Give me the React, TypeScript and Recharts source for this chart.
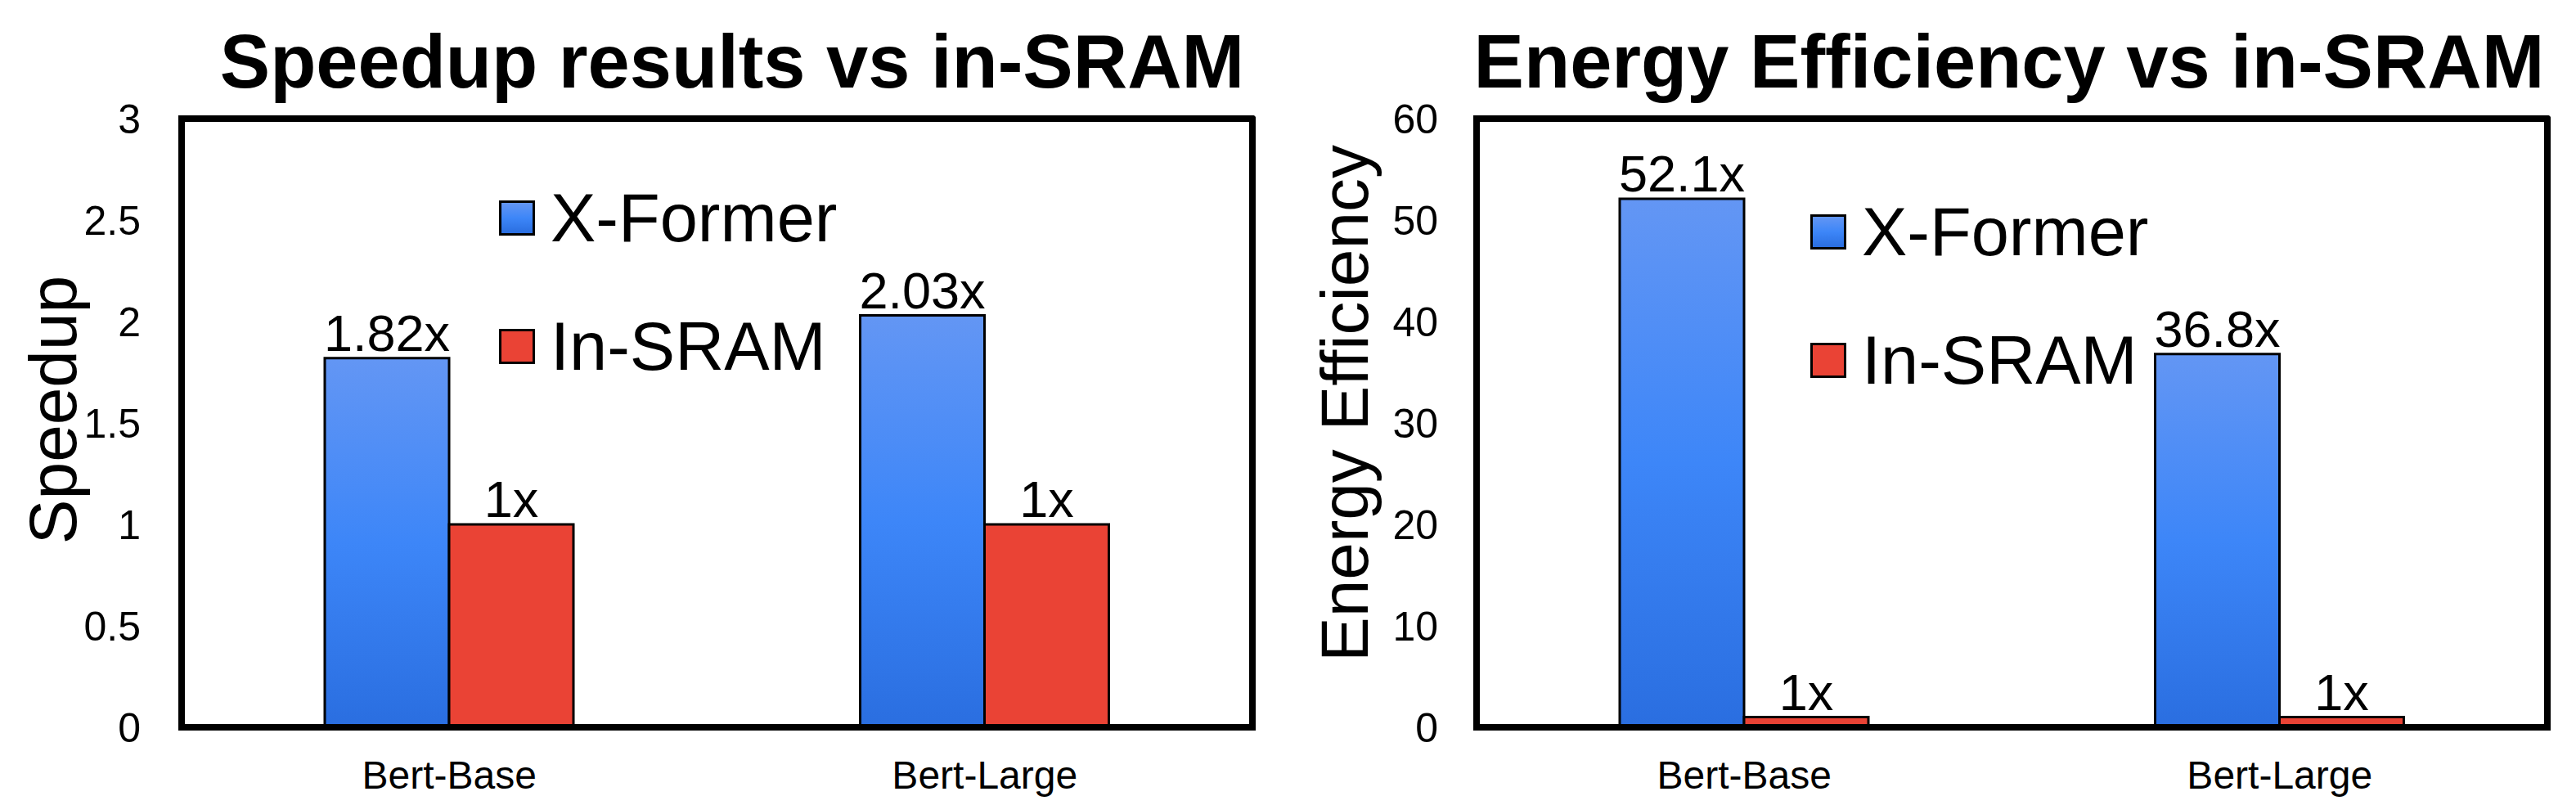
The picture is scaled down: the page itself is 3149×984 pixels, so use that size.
import { BarChart, Bar, XAxis, YAxis, Legend, LabelList, CartesianGrid } from 'recharts'

const categories = ['Bert-Base', 'Bert-Large']
const seriesNames = ['X-Former', 'In-SRAM']
const speedupXFormer = [1.82, 2.03]
const speedupInSram = [1, 1]
const energyXFormer = [52.1, 36.8]
const energyInSram = [1, 1]
const speedupTicks = [0, 0.5, 1, 1.5, 2, 2.5, 3]
const energyTicks = [0, 10, 20, 30, 40, 50, 60]

const FONT = '"Liberation Sans", Arial, Helvetica, sans-serif'

const speedupData = categories.map((name, i) => ({
  name,
  xformer: speedupXFormer[i],
  insram: speedupInSram[i],
}))
const energyData = categories.map((name, i) => ({
  name,
  xformer: energyXFormer[i],
  insram: energyInSram[i],
}))

const frameLine = { stroke: '#000', strokeWidth: 8, strokeLinecap: 'square' as const }

function Swatch({ kind }: { kind: string }) {
  const bg =
    kind === 'X-Former'
      ? 'linear-gradient(#6396f4, #3d86f8 50%, #2a6ee0)'
      : '#ea4335'
  return (
    <div
      style={{
        width: 38,
        height: 37,
        border: '3px solid #000',
        background: bg,
        marginRight: 19,
        flex: 'none',
      }}
    />
  )
}

function LegendBox() {
  return (
    <div style={{ fontFamily: FONT }}>
      {seriesNames.map((name) => (
        <div key={name} style={{ display: 'flex', alignItems: 'center', height: 157 }}>
          <Swatch kind={name} />
          <span style={{ fontSize: 83, lineHeight: '83px', color: '#000' }}>{name}</span>
        </div>
      ))}
    </div>
  )
}

type PanelProps = {
  data: { name: string; xformer: number; insram: number }[]
  width: number
  axisWidth: number
  tickGap: number
  marginRight: number
  domain: [number, number]
  ticks: number[]
  yLabel: string
  labelDx: number
  labelDy: number
  legendLeft: number
  legendTop: number
  id: string
}

function Panel(p: PanelProps) {
  return (
    <BarChart
      width={p.width}
      height={984}
      data={p.data}
      margin={{ top: 145, right: p.marginRight, bottom: 0, left: 0 }}
      barGap={0}
      style={{ fontFamily: FONT }}
    >
      <defs>
        <linearGradient id={`blue-${p.id}`} x1='0' y1='0' x2='0' y2='1'>
          <stop offset='0%' stopColor='#6396f4' />
          <stop offset='50%' stopColor='#3d86f8' />
          <stop offset='100%' stopColor='#2a6ee0' />
        </linearGradient>
      </defs>
      {/* top and right edges of the box frame */}
      <CartesianGrid
        stroke='#000'
        strokeWidth={8}
        strokeLinecap='round'
        horizontalCoordinatesGenerator={({ offset }: any) => [offset.top]}
        verticalCoordinatesGenerator={({ offset }: any) => [offset.left + offset.width]}
      />
      <XAxis
        dataKey='name'
        height={95}
        tickSize={0}
        tickMargin={41}
        tick={{ fill: '#000', fontSize: 48, fontFamily: FONT }}
        axisLine={frameLine}
        tickLine={false}
      />
      <YAxis
        width={p.axisWidth}
        domain={p.domain}
        ticks={p.ticks}
        tickSize={0}
        tickMargin={p.tickGap}
        tick={{ fill: '#000', fontSize: 50, fontFamily: FONT }}
        axisLine={frameLine}
        tickLine={false}
        label={{
          value: p.yLabel,
          angle: -90,
          position: 'center',
          dx: p.labelDx,
          dy: p.labelDy,
          style: { fontSize: 82, fill: '#000', fontFamily: FONT },
        }}
      />
      <Legend
        layout='vertical'
        align='center'
        verticalAlign='middle'
        content={<LegendBox />}
        wrapperStyle={{ left: p.legendLeft, top: p.legendTop, width: 'auto' }}
      />
      <Bar
        dataKey='xformer'
        name='X-Former'
        fill={`url(#blue-${p.id})`}
        stroke='#000'
        strokeWidth={3}
        barSize={152}
        isAnimationActive={false}
      >
        <LabelList
          dataKey='xformer'
          position='top'
          offset={9}
          formatter={(v: any) => `${v}x`}
          style={{ fontSize: 63, fill: '#000', fontFamily: FONT }}
        />
      </Bar>
      <Bar
        dataKey='insram'
        name='In-SRAM'
        fill='#ea4335'
        stroke='#000'
        strokeWidth={3}
        barSize={152}
        isAnimationActive={false}
      >
        <LabelList
          dataKey='insram'
          position='top'
          offset={9}
          formatter={(v: any) => `${v}x`}
          style={{ fontSize: 63, fill: '#000', fontFamily: FONT }}
        />
      </Bar>
    </BarChart>
  )
}

const titleStyle = {
  position: 'absolute' as const,
  top: 29,
  fontFamily: FONT,
  fontWeight: 700,
  fontSize: 92,
  lineHeight: '92px',
  textAlign: 'center' as const,
  color: '#000',
  whiteSpace: 'nowrap' as const,
}

export default function App() {
  return (
    <div style={{ position: 'absolute', left: 0, top: 0, width: 3149, height: 984, background: '#fff' }}>
      <div style={{ position: 'absolute', left: 0, top: 0 }}>
        <Panel
          id='speed'
          data={speedupData}
          width={1575}
          axisWidth={222}
          tickGap={50}
          marginRight={44}
          domain={[0, 3]}
          ticks={speedupTicks}
          yLabel='Speedup'
          labelDx={-47}
          labelDy={-16}
          legendLeft={610}
          legendTop={188}
        />
      </div>
      <div style={{ position: 'absolute', left: 1580, top: 0 }}>
        <Panel
          id='energy'
          data={energyData}
          width={1569}
          axisWidth={225}
          tickGap={47}
          marginRight={35}
          domain={[0, 60]}
          ticks={energyTicks}
          yLabel='Energy Efficiency'
          labelDx={-50}
          labelDy={-24}
          legendLeft={633}
          legendTop={205}
        />
      </div>
      <div style={{ ...titleStyle, left: 0, width: 1790 }}>Speedup results vs in-SRAM</div>
      <div style={{ ...titleStyle, left: 1763, width: 1386 }}>Energy Efficiency vs in-SRAM</div>
    </div>
  )
}
